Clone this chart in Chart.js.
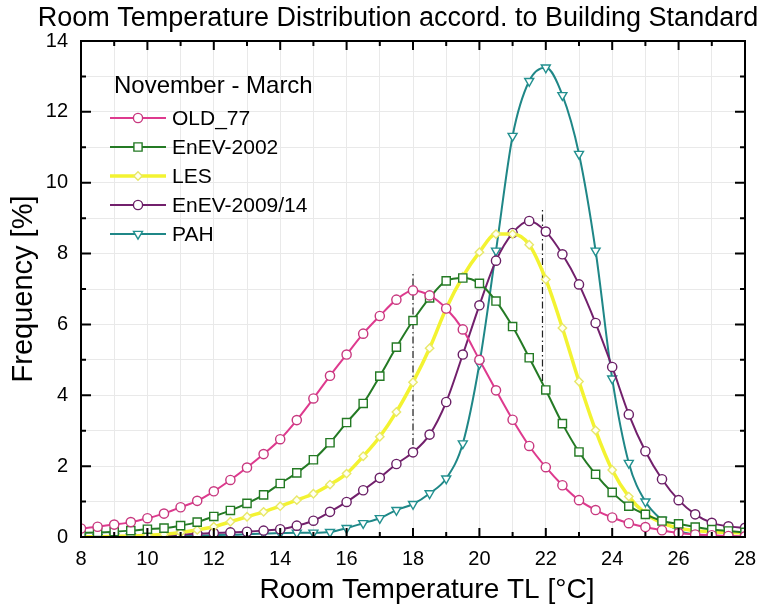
<!DOCTYPE html>
<html>
<head>
<meta charset="utf-8">
<script src="https://cdn.jsdelivr.net/npm/chart.js@4.4.1/dist/chart.umd.min.js"></script>
<style>
  html, body { margin: 0; padding: 0; background: #fff; }
  #wrap { width: 773px; height: 607px; }
</style>
</head>
<body>
<div id="wrap"><canvas id="chart"></canvas></div>
<script>
// room temperature in degC, one marker every 0.5 K
const temps = [8, 8.5, 9, 9.5, 10, 10.5, 11, 11.5, 12, 12.5, 13, 13.5, 14, 14.5, 15, 15.5, 16, 16.5, 17, 17.5,
    18, 18.5, 19, 19.5, 20, 20.5, 21, 21.5, 22, 22.5, 23, 23.5, 24, 24.5, 25, 25.5, 26, 26.5, 27, 27.5, 28];

// frequency in %
const old77 = [0.24, 0.29, 0.35, 0.42, 0.53, 0.66, 0.84, 1.02, 1.29, 1.61, 1.96, 2.34, 2.76, 3.30, 3.91, 4.55, 5.15, 5.74, 6.24, 6.70,
    6.96, 6.82, 6.45, 5.86, 5.00, 4.14, 3.31, 2.57, 1.97, 1.46, 1.04, 0.76, 0.55, 0.39, 0.28, 0.19, 0.11, 0.07, 0.05, 0.03, 0.02];
const enev2002 = [0.12, 0.13, 0.15, 0.18, 0.22, 0.25, 0.32, 0.42, 0.58, 0.75, 0.95, 1.19, 1.51, 1.81, 2.18, 2.66, 3.23, 3.77, 4.54, 5.36,
    6.11, 6.75, 7.23, 7.31, 7.16, 6.66, 5.94, 5.06, 4.15, 3.20, 2.40, 1.77, 1.26, 0.87, 0.64, 0.45, 0.37, 0.28, 0.21, 0.17, 0.13];
const les = [0.01, 0.01, 0.02, 0.03, 0.05, 0.08, 0.13, 0.20, 0.29, 0.43, 0.57, 0.71, 0.87, 1.04, 1.22, 1.48, 1.79, 2.28, 2.83, 3.53,
    4.37, 5.33, 6.45, 7.35, 8.04, 8.55, 8.55, 8.25, 7.27, 5.90, 4.39, 3.01, 1.89, 1.14, 0.67, 0.40, 0.25, 0.18, 0.15, 0.13, 0.12];
const enev2009 = [0.01, 0.01, 0.02, 0.03, 0.04, 0.05, 0.07, 0.09, 0.11, 0.13, 0.15, 0.18, 0.22, 0.32, 0.46, 0.71, 0.99, 1.32, 1.67, 2.06,
    2.39, 2.89, 3.81, 5.15, 6.54, 7.80, 8.58, 8.92, 8.62, 7.98, 7.13, 6.04, 4.80, 3.46, 2.42, 1.63, 1.04, 0.64, 0.40, 0.30, 0.26];
const pah = [0.00, 0.00, 0.01, 0.01, 0.02, 0.02, 0.03, 0.04, 0.05, 0.06, 0.08, 0.10, 0.11, 0.12, 0.12, 0.14, 0.25, 0.39, 0.53, 0.76,
    0.93, 1.23, 1.65, 2.64, 4.89, 8.08, 11.32, 12.87, 13.25, 12.47, 10.81, 8.08, 4.47, 2.09, 1.00, 0.48, 0.18, 0.07, 0.03, 0.01, 0.00];

const seriesNames = ['OLD_77', 'EnEV-2002', 'LES', 'EnEV-2009/14', 'PAH'];

// dash-dot marker lines: x position, from, to
const markX = [18, 21.9];
const markFrom = [2.6, 4.4];
const markTo = [7.5, 9.25];

const xTicks = [8, 10, 12, 14, 16, 18, 20, 22, 24, 26, 28];
const yTicks = [0, 2, 4, 6, 8, 10, 12, 14];

const FONT = "'Liberation Sans', Arial, sans-serif";

function pts(values) {
    return temps.map((t, i) => ({ x: t, y: values[i] }));
}

function curve(label, values, color, width, style, marker, fill, radius, rot) {
    return {
        label: label,
        data: pts(values),
        borderColor: color,
        borderWidth: width,
        pointStyle: style,
        pointRadius: radius,
        pointRotation: rot || 0,
        pointBorderColor: marker,
        pointBackgroundColor: fill,
        pointBorderWidth: 1.4,
        pointHoverRadius: radius,
        cubicInterpolationMode: 'monotone',
        fill: false
    };
}

const datasets = [
    curve(seriesNames[0], old77, '#de3a8e', 2, 'circle', '#c8387f', '#ffffff', 4.6),
    curve(seriesNames[1], enev2002, '#247a24', 2, 'rect', '#247a24', '#ffffff', 5.8),
    curve(seriesNames[2], les, '#f3f331', 3.5, 'rectRot', '#e8e86a', '#fffff2', 4.2),
    curve(seriesNames[3], enev2009, '#72206c', 2, 'circle', '#6a1f66', '#ffffff', 4.6),
    curve(seriesNames[4], pah, '#1f8787', 2, 'triangle', '#22908f', '#ffffff', 5.2, 180)
];

markX.forEach((x, i) => {
    datasets.push({
        label: 'mark' + i,
        data: [{ x: x, y: markFrom[i] }, { x: x, y: markTo[i] }],
        borderColor: '#222',
        borderWidth: 1.2,
        borderDash: [7, 3, 1.5, 3],
        pointRadius: 0,
        fill: false
    });
});

const framePlugin = {
    id: 'framePlugin',
    afterDatasetsDraw(chart) {
        const ctx = chart.ctx;
        const a = chart.chartArea;
        const xs = chart.scales.x;
        const ys = chart.scales.y;
        ctx.save();
        ctx.strokeStyle = '#000';
        ctx.lineWidth = 2;
        ctx.beginPath();
        for (let v = 8; v <= 28; v++) {
            const px = xs.getPixelForValue(v);
            const len = v % 2 === 0 ? 9 : 5;
            ctx.moveTo(px, a.bottom); ctx.lineTo(px, a.bottom - len);
            ctx.moveTo(px, a.top); ctx.lineTo(px, a.top + len);
        }
        for (let v = 1; v < 14; v++) {
            const py = ys.getPixelForValue(v);
            const len = v % 2 === 0 ? 10 : 5;
            ctx.moveTo(a.left, py); ctx.lineTo(a.left + len, py);
            ctx.moveTo(a.right, py); ctx.lineTo(a.right - len, py);
        }
        ctx.stroke();
        ctx.strokeRect(a.left, a.top, a.right - a.left, a.bottom - a.top);
        ctx.restore();
    },
    afterDraw(chart) {
        const ctx = chart.ctx;
        ctx.save();
        ctx.fillStyle = '#000';
        ctx.textBaseline = 'middle';

        // title
        ctx.font = '27px ' + FONT;
        ctx.textAlign = 'center';
        ctx.fillText('Room Temperature Distribution accord. to Building Standard', 398, 19);

        // x axis title
        ctx.font = '28px ' + FONT;
        ctx.fillText('Room Temperature TL [°C]', 427, 590);

        // legend
        ctx.textAlign = 'left';
        ctx.font = '24px ' + FONT;
        ctx.fillText('November - March', 114, 86);
        ctx.font = '21px ' + FONT;
        for (let i = 0; i < 5; i++) {
            const ds = chart.data.datasets[i];
            const y = 118 + i * 29;
            ctx.strokeStyle = ds.borderColor;
            ctx.lineWidth = ds.borderWidth;
            ctx.beginPath();
            ctx.moveTo(110, y);
            ctx.lineTo(166, y);
            ctx.stroke();
            ctx.lineWidth = ds.pointBorderWidth;
            ctx.strokeStyle = ds.pointBorderColor;
            ctx.fillStyle = ds.pointBackgroundColor;
            Chart.helpers.drawPoint(ctx, {
                pointStyle: ds.pointStyle,
                rotation: ds.pointRotation,
                radius: ds.pointRadius,
                borderWidth: ds.pointBorderWidth
            }, 138, y);
            ctx.fillStyle = '#000';
            ctx.fillText(ds.label, 172, y + 1);
        }
        ctx.restore();
    }
};

new Chart(document.getElementById('chart'), {
    type: 'line',
    data: { datasets: datasets },
    options: {
        responsive: true,
        maintainAspectRatio: false,
        animation: false,
        layout: { padding: { top: 41, right: 28, left: 0, bottom: 0 } },
        plugins: {
            legend: { display: false },
            title: { display: false },
            tooltip: { enabled: false }
        },
        scales: {
            x: {
                type: 'linear',
                min: 8,
                max: 28,
                afterFit: (s) => { s.height = 70; },
                afterBuildTicks: (s) => { s.ticks = temps.filter(t => t % 1 === 0).map(v => ({ value: v })); },
                ticks: {
                    autoSkip: false,
                    maxRotation: 0,
                    padding: 10,
                    color: '#000',
                    font: { size: 20, family: FONT },
                    callback: (v) => xTicks.includes(v) ? String(v) : ''
                },
                grid: { color: '#e9e9e9', lineWidth: 1, drawTicks: false },
                border: { display: false }
            },
            y: {
                min: 0,
                max: 14,
                afterFit: (s) => { s.width = 81; },
                ticks: {
                    stepSize: 1,
                    padding: 13,
                    color: '#000',
                    font: { size: 20, family: FONT },
                    callback: (v) => yTicks.includes(v) ? String(v) : ''
                },
                grid: { color: '#e9e9e9', lineWidth: 1, drawTicks: false },
                border: { display: false },
                title: {
                    display: true,
                    text: 'Frequency [%]',
                    color: '#000',
                    font: { size: 29, family: FONT },
                    padding: { top: 7, bottom: 0 }
                }
            }
        }
    },
    plugins: [framePlugin]
});
</script>
</body>
</html>
